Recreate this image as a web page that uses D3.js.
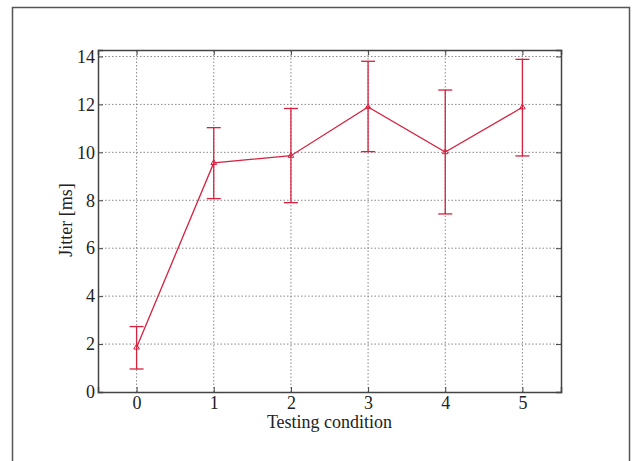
<!DOCTYPE html>
<html>
<head>
<meta charset="utf-8">
<script src="https://cdn.jsdelivr.net/npm/d3@7"></script>
<style>
  body { margin: 0; background: #fff; }
  text { font-family: "Liberation Serif", "DejaVu Serif", serif; fill: #222; }
</style>
</head>
<body>
<div id="chart"></div>
<script>
// DATA
const conditions = [0, 1, 2, 3, 4, 5];
const jitter = [1.86, 9.56, 9.86, 11.89, 10.01, 11.88];
const errLow = [0.96, 8.07, 7.9, 10.03, 7.43, 9.85];
const errHigh = [2.73, 11.03, 11.83, 13.8, 12.6, 13.88];
const yTicks = [0, 2, 4, 6, 8, 10, 12, 14];

const width = 635, height = 461;
const margin = {top: 50, right: 74, bottom: 69, left: 98};
const serif = "'Liberation Serif', 'DejaVu Serif', serif";

const svg = d3.select("#chart").append("svg")
    .attr("width", width)
    .attr("height", height);

// outer figure frame
svg.append("rect")
    .attr("x", 12.5).attr("y", 7.5)
    .attr("width", 617).attr("height", 470)
    .attr("fill", "none")
    .attr("stroke", "#555")
    .attr("stroke-width", 1.5);

// SCALES
const x = d3.scaleLinear()
    .domain([-0.5, 5.5])
    .range([margin.left, width - margin.right]);
const y = d3.scaleLinear()
    .domain([0, 14.27])
    .range([height - margin.bottom, margin.top]);

const x0 = margin.left, x1 = width - margin.right;
const y0 = height - margin.bottom, y1 = margin.top;

// grid
svg.append("g").selectAll("line")
    .data(conditions)
    .join("line")
    .attr("x1", d => x(d)).attr("x2", d => x(d))
    .attr("y1", y0).attr("y2", y1)
    .attr("stroke", "#888").attr("stroke-dasharray", "1.5,2");
svg.append("g").selectAll("line")
    .data(yTicks.slice(1))
    .join("line")
    .attr("x1", x0).attr("x2", x1)
    .attr("y1", d => y(d)).attr("y2", d => y(d))
    .attr("stroke", "#888").attr("stroke-dasharray", "1.5,2");

// AXES (ticks inward, box on)
const xAxis = svg.append("g")
    .attr("transform", `translate(0, ${y0})`)
    .call(d3.axisBottom(x).tickValues(conditions).tickSize(-5).tickPadding(4).tickFormat(d3.format("d")));
const xTop = svg.append("g")
    .attr("transform", `translate(0, ${y1})`)
    .call(d3.axisTop(x).tickValues(conditions).tickSize(-5).tickFormat(""));
const yAxis = svg.append("g")
    .attr("transform", `translate(${x0}, 0)`)
    .call(d3.axisLeft(y).tickValues(yTicks).tickSize(-5).tickPadding(3));
const yRight = svg.append("g")
    .attr("transform", `translate(${x1}, 0)`)
    .call(d3.axisRight(y).tickValues(yTicks).tickSize(-5).tickFormat(""));

[xAxis, xTop, yAxis, yRight].forEach(g => {
  g.attr("font-family", serif).attr("font-size", 18);
  g.select(".domain").attr("stroke", "#444").attr("stroke-width", 1.5);
  g.selectAll(".tick line").attr("stroke", "#444");
  g.selectAll("text").attr("fill", "#333");
});

// axis titles
svg.append("text")
    .attr("x", (x0 + x1) / 2)
    .attr("y", 428)
    .attr("text-anchor", "middle")
    .style("font-size", "18px")
    .text("Testing condition");

svg.append("text")
    .attr("transform", `translate(72, 220) rotate(-90)`)
    .attr("text-anchor", "middle")
    .style("font-size", "18px")
    .text("Jitter [ms]");

const red = "#d6213f";
const pts = conditions.map((c, i) => ({c, v: jitter[i], lo: errLow[i], hi: errHigh[i]}));

// error bars
const eb = svg.append("g").attr("stroke", red).attr("stroke-width", 1.3);
eb.selectAll(".stem").data(pts).join("line")
    .attr("x1", d => x(d.c)).attr("x2", d => x(d.c))
    .attr("y1", d => y(d.lo)).attr("y2", d => y(d.hi));
eb.selectAll(".capHi").data(pts).join("line")
    .attr("x1", d => x(d.c) - 7).attr("x2", d => x(d.c) + 7)
    .attr("y1", d => y(d.hi)).attr("y2", d => y(d.hi));
eb.selectAll(".capLo").data(pts).join("line")
    .attr("x1", d => x(d.c) - 7).attr("x2", d => x(d.c) + 7)
    .attr("y1", d => y(d.lo)).attr("y2", d => y(d.lo));

// line
svg.append("path")
    .datum(pts)
    .attr("fill", "none")
    .attr("stroke", red)
    .attr("stroke-width", 1.3)
    .attr("d", d3.line().x(d => x(d.c)).y(d => y(d.v)));

// triangle markers
svg.append("g").selectAll("path")
    .data(pts)
    .join("path")
    .attr("transform", d => `translate(${x(d.c)}, ${y(d.v)})`)
    .attr("d", d3.symbol(d3.symbolTriangle, 14))
    .attr("fill", "none")
    .attr("stroke", red)
    .attr("stroke-width", 1);
</script>
</body>
</html>
